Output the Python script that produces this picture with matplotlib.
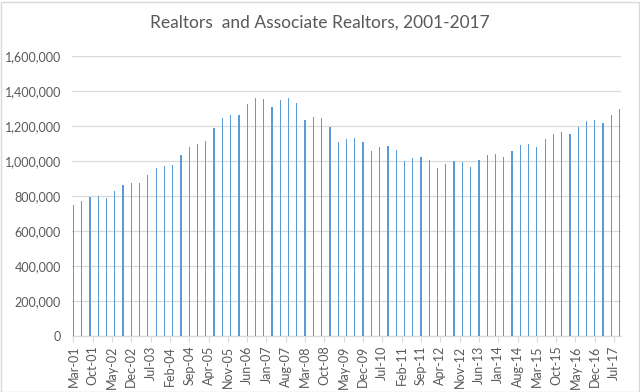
import matplotlib
matplotlib.use("Agg")
import matplotlib.pyplot as plt
import pandas as pd
from matplotlib.patches import Rectangle
from matplotlib.ticker import FuncFormatter

# quarterly membership counts, Mar-2001 .. Sep-2017
members = [
    746800, 769700, 794300, 800000, 788600, 826800, 861100, 872500, 872500, 918200,
    960000, 973600, 975400, 1032600, 1082000, 1099400, 1114200, 1186800, 1243900, 1261100,
    1261100, 1325700, 1358200, 1352500, 1310800, 1350800, 1362200, 1333600, 1232500, 1253600,
    1245700, 1194200, 1106800, 1125700, 1133600, 1106800, 1059400, 1082200, 1084000, 1062800,
    1000000, 1017100, 1021100, 1005700, 960000, 985000, 998200, 996300, 965700, 1005700,
    1032600, 1038300, 1022800, 1059400, 1089700, 1095400, 1082200, 1125700, 1156500, 1164000,
    1152600, 1196500, 1228600, 1232500, 1215400, 1265000, 1295400,
]
dates = pd.date_range("2001-03-01", periods=len(members), freq="3MS")
tick_dates = pd.date_range("2001-03-01", "2017-07-01", freq="7MS")

title = "Realtors  and Associate Realtors, 2001-2017"
bar_color = "#5B9BD5"
text_color = "#595959"
grid_color = "#D9D9D9"

plt.rcParams["font.family"] = ["Lato", "DejaVu Sans"]


def month_index(d):
    return (d.year - 2001) * 12 + d.month - 3


x = [month_index(d) for d in dates]
tx = [month_index(d) for d in tick_dates]

fig = plt.figure(figsize=(6.4, 3.92), dpi=100)
ax = fig.add_axes([72 / 640, 1 - 336 / 392, (621 - 72) / 640, (336 - 56) / 392])

ax.bar(x, members, width=0.45, color=bar_color, linewidth=0, zorder=3)
ax.set_xlim(-0.5, 198.5)
ax.set_ylim(0, 1600000)
ax.set_yticks(range(0, 1600001, 200000))
ax.yaxis.set_major_formatter(FuncFormatter(lambda v, _: f"{int(v):,}"))
ax.set_xticks(tx, [d.strftime("%b-%y") for d in tick_dates], rotation=90)

ax.grid(axis="y", color=grid_color, linewidth=0.9, zorder=0)
for side in ["top", "right", "left"]:
    ax.spines[side].set_visible(False)
ax.spines["bottom"].set_color(grid_color)
ax.spines["bottom"].set_linewidth(0.9)
ax.tick_params(axis="y", length=0, labelsize=9, labelcolor=text_color, pad=8)
ax.tick_params(axis="x", length=4, color=grid_color, labelsize=9, labelcolor=text_color, pad=3)

fig.text(0.5, 1 - 22.5 / 392, title, ha="center", va="center", fontsize=12.5, color=text_color)

fig.patches.append(Rectangle((0.5 / 640, 0.5 / 392), 638 / 640, 390 / 392, transform=fig.transFigure,
                             fill=False, edgecolor=grid_color, linewidth=1))

fig.savefig("out.png", dpi=100, facecolor="white")
